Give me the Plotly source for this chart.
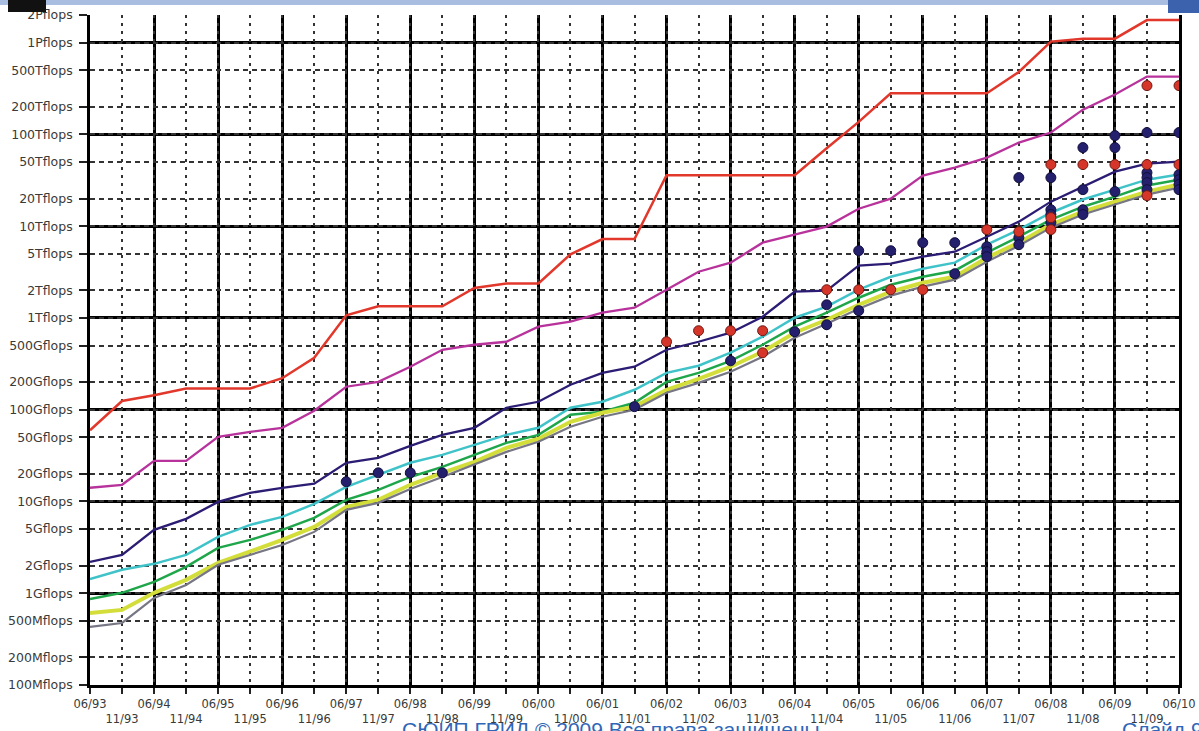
import math
import plotly.graph_objects as go

# ---------------- data (values in Gflops) ----------------
periods = ["06/93", "11/93", "06/94", "11/94", "06/95", "11/95", "06/96", "11/96",
           "06/97", "11/97", "06/98", "11/98", "06/99", "11/99", "06/00", "11/00",
           "06/01", "11/01", "06/02", "11/02", "06/03", "11/03", "06/04", "11/04",
           "06/05", "11/05", "06/06", "11/06", "06/07", "11/07", "06/08", "11/08",
           "06/09", "11/09", "06/10"]

line_red = [59.7, 124.5, 143.4, 170.4, 170.4, 170.4, 220.4, 368.2, 1068, 1338, 1338, 1338,
            2121, 2379, 2379, 4938, 7226, 7226, 35860, 35860, 35860, 35860, 35860, 70720,
            136800, 280600, 280600, 280600, 280600, 478200, 1026000, 1105000, 1105000,
            1759000, 1759000]
line_magenta = [14.1, 15.2, 27.7, 27.7, 50.6, 57.4, 63.5, 97.3, 178, 201, 294, 450, 510, 550,
                802, 910, 1140, 1294, 2033, 3190, 4000, 6607, 8090, 9890, 15500, 19950,
                35500, 43500, 55800, 81500, 104700, 186000, 272000, 427000, 427000]
line_navy = [2.19, 2.62, 4.90, 6.46, 9.90, 12.4, 14.1, 15.6, 26.4, 29.9, 40.4, 53.2, 63.5, 105,
             122, 187, 252, 294, 450, 550, 690, 1030, 1930, 1980, 3710, 3900, 4650, 5270,
             7680, 11200, 18500, 27000, 39300, 48000, 50500]
line_cyan = [1.43, 1.80, 2.09, 2.62, 4.11, 5.56, 6.79, 9.41, 14.4, 19.5, 26.4, 32.2, 41.4, 53.2,
             63.5, 105, 122, 165, 252, 301, 418, 624, 1005, 1325, 2030, 2810, 3440, 4000,
             6280, 9160, 14000, 19500, 25000, 32100, 36500]
line_green = [0.867, 1.01, 1.33, 1.94, 3.12, 3.81, 4.90, 6.62, 10.4, 13.4, 18.5, 23.8, 32.2,
              43.5, 53.2, 88, 94.8, 119, 201, 252, 341, 510, 802, 1140, 1660, 2300, 2810,
              3270, 5140, 7680, 11800, 16300, 21000, 27700, 32100]
line_yellow = [0.610, 0.658, 1.01, 1.40, 2.14, 2.82, 3.81, 5.28, 8.73, 10.4, 15.2, 20.5, 27.0,
               38.4, 48.2, 73.8, 92.5, 108, 165, 217, 294, 428, 690, 955, 1390, 1930, 2420,
               2810, 4530, 6610, 10400, 14400, 18500, 23800, 28400]
line_gray = [0.429, 0.474, 0.889, 1.23, 2.04, 2.62, 3.36, 4.66, 8.10, 9.66, 13.7, 18.5, 25.1,
             34.7, 44.7, 65.1, 83.7, 99.8, 153, 196, 259, 378, 608, 865, 1260, 1750, 2190,
             2610, 4100, 6120, 9640, 13400, 17200, 22100, 26300]

navy_dot_period = ["06/97", "11/97", "06/98", "11/98", "11/01", "06/03", "06/04", "11/04", "11/04",
                   "06/05", "06/05", "11/05", "06/06", "11/06", "11/06", "06/07", "06/07", "06/07",
                   "11/07", "11/07", "11/07", "06/08", "06/08", "06/08", "06/08",
                   "11/08", "11/08", "11/08", "11/08", "06/09", "06/09", "06/09",
                   "11/09", "11/09", "11/09", "11/09", "11/09",
                   "06/10", "06/10", "06/10", "06/10", "06/10"]
navy_dot_value = [16.4, 20.5, 20.5, 20.5, 108, 341, 707, 1390, 843, 5400, 1200, 5400, 6610, 6610,
                  3030, 5970, 5270, 4650, 33800, 7500, 6280, 33800, 15100, 13400, 10900,
                  71800, 25000, 15100, 13400, 97000, 71800, 23800,
                  104700, 38300, 33800, 29800, 25000,
                  104700, 36500, 32100, 28400, 25000]

red_dot_period = ["06/02", "11/02", "06/03", "11/03", "11/03", "11/04", "06/05", "11/05", "06/06",
                  "06/07", "11/07", "06/08", "06/08", "06/08", "11/08", "06/09",
                  "11/09", "11/09", "11/09", "06/10", "06/10"]
red_dot_value = [550, 725, 725, 725, 417, 2030, 2030, 2030, 2030, 9160, 8710, 46900, 12400, 9160,
                 46900, 46900, 340000, 46900, 21500, 340000, 46900]

y_tick_values = [0.1, 0.2, 0.5, 1, 2, 5, 10, 20, 50, 100, 200, 500, 1000, 2000, 5000,
                 10000, 20000, 50000, 100000, 200000, 500000, 1000000, 2000000]
y_tick_labels = ["100Mflops", "200Mflops", "500Mflops", "1Gflops", "2Gflops", "5Gflops",
                 "10Gflops", "20Gflops", "50Gflops", "100Gflops", "200Gflops", "500Gflops",
                 "1Tflops", "2Tflops", "5Tflops", "10Tflops", "20Tflops", "50Tflops",
                 "100Tflops", "200Tflops", "500Tflops", "1Pflops", "2Pflops"]
y_decades = [0.1, 1, 10, 100, 1000, 10000, 100000, 1000000]

# ---------------- figure ----------------
x_idx = list(range(len(periods)))
fig = go.Figure()

series = [
    (line_red, "#e2372b", 2.5),
    (line_magenta, "#b8329c", 2.3),
    (line_navy, "#2c1c74", 2.3),
    (line_cyan, "#3fc3c9", 2.5),
    (line_green, "#1fa64a", 2.5),
    (line_yellow, "#d3de3a", 4.0),
    (line_gray, "#767684", 2.2),
]
for vals, col, w in series:
    fig.add_trace(go.Scatter(x=x_idx, y=vals, mode="lines",
                             line=dict(color=col, width=w), hoverinfo="skip"))

fig.add_trace(go.Scatter(
    x=[periods.index(p) for p in navy_dot_period], y=navy_dot_value, mode="markers",
    marker=dict(size=10, color="#24206e", line=dict(color="#12103c", width=1))))
fig.add_trace(go.Scatter(
    x=[periods.index(p) for p in red_dot_period], y=red_dot_value, mode="markers",
    marker=dict(size=10, color="#d6362a", line=dict(color="#6e1a14", width=1))))

x_text = [p if i % 2 == 0 else "<br>" + p for i, p in enumerate(periods)]

fig.update_xaxes(
    range=[0, len(periods) - 1], tickmode="array", tickvals=x_idx, ticktext=x_text,
    tickangle=0, ticks="outside", ticklen=6, tickwidth=1.5, tickcolor="#222",
    tickfont=dict(family="DejaVu Sans, Arial, sans-serif", size=11.5, color="#3a3a3a"),
    showgrid=True, gridcolor="#333", gridwidth=1.5, griddash="3px,5px",
    minor=dict(tickmode="array", tickvals=x_idx[::2], ticks="inside", ticklen=0,
               showgrid=True, gridcolor="#000", gridwidth=2.6, griddash="solid"),
    showline=True, linecolor="#000", linewidth=2.6, mirror=False, zeroline=False,
)
fig.update_yaxes(
    type="log", range=[math.log10(0.1), math.log10(2000000)],
    tickmode="array", tickvals=y_tick_values, ticktext=y_tick_labels,
    ticks="outside", ticklen=8, tickwidth=1.5, tickcolor="#222", ticklabelstandoff=4,
    tickfont=dict(family="DejaVu Sans, Arial, sans-serif", size=12.5, color="#3a3a3a"),
    showgrid=True, gridcolor="#333", gridwidth=1.5, griddash="5px,4px",
    minor=dict(tickmode="array", tickvals=y_decades, ticks="inside", ticklen=0,
               showgrid=True, gridcolor="#000", gridwidth=2.6, griddash="solid"),
    showline=True, linecolor="#000", linewidth=2.6, mirror=True, zeroline=False,
)

# slide decorations (header strip, corner boxes, footer text)
def px_x(px):
    return (px - 90) / 1089.0

def px_y(py):
    return (685 - py) / 670.0

fig.add_shape(type="rect", xref="paper", yref="paper", x0=px_x(0), x1=px_x(1199),
              y0=px_y(5), y1=px_y(0), fillcolor="#a9bde0", line=dict(width=0), layer="above")
fig.add_shape(type="rect", xref="paper", yref="paper", x0=px_x(8), x1=px_x(46),
              y0=px_y(12), y1=px_y(0), fillcolor="#111", line=dict(width=0), layer="above")
fig.add_shape(type="rect", xref="paper", yref="paper", x0=px_x(1168), x1=px_x(1199),
              y0=px_y(13), y1=px_y(0), fillcolor="#3d62ad", line=dict(width=0), layer="above")
fig.add_annotation(text="СЮИП ГРИД © 2009 Все права защищены", xref="paper", yref="paper",
                   x=px_x(400), y=px_y(716), xanchor="left", yanchor="top", showarrow=False,
                   font=dict(family="Liberation Sans, Arial, sans-serif", size=21, color="#2f66b8"))
fig.add_annotation(text="Слайд 9", xref="paper", yref="paper",
                   x=px_x(1120), y=px_y(716), xanchor="left", yanchor="top", showarrow=False,
                   font=dict(family="Liberation Sans, Arial, sans-serif", size=21, color="#2f66b8"))

fig.update_layout(
    width=1199, height=731, showlegend=False,
    margin=dict(l=90, r=20, t=15, b=46, autoexpand=False),
    paper_bgcolor="white", plot_bgcolor="white",
)

fig.write_html("out.html", config={"displayModeBar": False},
               post_script="document.body.style.margin='0px';document.body.style.overflow='hidden';")
